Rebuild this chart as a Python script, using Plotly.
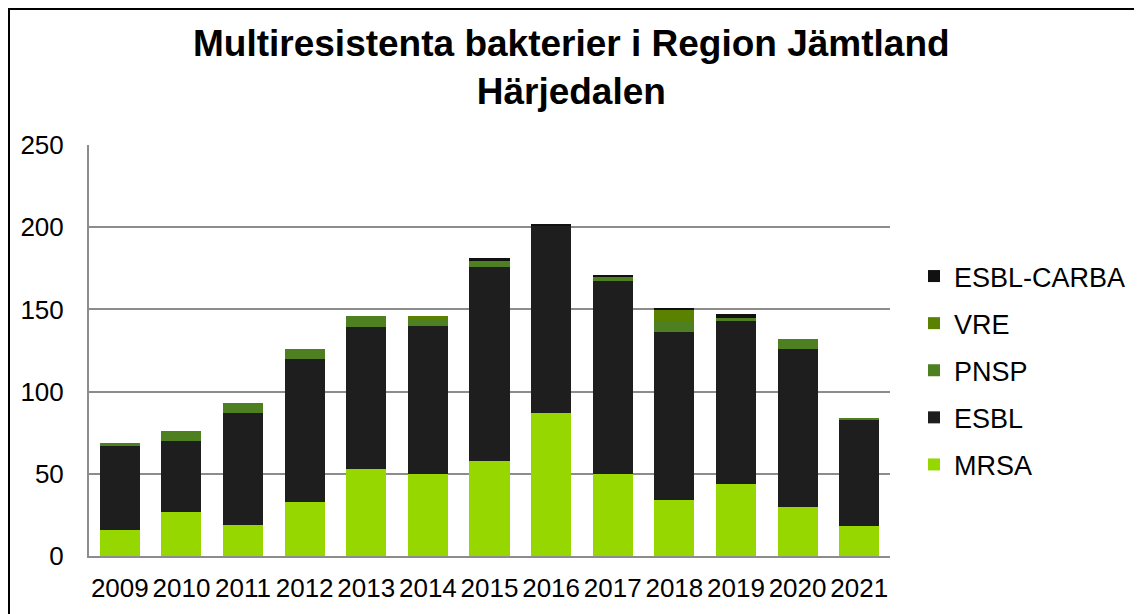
import plotly.graph_objects as go

years = ["2009", "2010", "2011", "2012", "2013", "2014", "2015",
         "2016", "2017", "2018", "2019", "2020", "2021"]
mrsa = [16, 27, 19, 33, 53, 50, 58, 87, 50, 34, 44, 30, 18]
esbl = [51, 43, 68, 87, 86, 90, 118, 114, 117, 102, 99, 96, 65]
pnsp = [2, 6, 6, 6, 7, 4, 4, 0, 3, 7, 2, 6, 1]
vre = [0, 0, 0, 0, 0, 2, 0, 0, 0, 7, 0, 0, 0]
esbl_carba = [0, 0, 0, 0, 0, 0, 1, 1, 1, 1, 2, 0, 0]

series = [
    ("MRSA", mrsa, "#97D700"),
    ("ESBL", esbl, "#1E1E1E"),
    ("PNSP", pnsp, "#4E7F20"),
    ("VRE", vre, "#5A8200"),
    ("ESBL-CARBA", esbl_carba, "#111111"),
]

FONT = "Liberation Sans, Arial, sans-serif"
W, H = 1142, 614
OFF = 8  # page body margin offset
L, R, T, B = 89 - OFF, 252 + OFF, 145 - OFF, 58 + OFF
PW, PH = W - L - R, H - T - B

fig = go.Figure()
for i, (name, vals, col) in enumerate(series):
    fig.add_trace(go.Bar(x=years, y=vals, name=name, marker_color=col,
                         marker_line_width=0, legendgroup=name,
                         legendrank=len(series) - i))

def px_x(p):
    return (p - OFF - L) / PW

def px_y(p):
    return (H - B - (p - OFF)) / PH

fig.update_layout(
    width=W, height=H,
    margin=dict(l=L, r=R, t=T, b=B, autoexpand=False),
    barmode="stack", bargap=0.35,
    paper_bgcolor="white", plot_bgcolor="white",
    font=dict(family=FONT, size=26, color="black"),
    legend=dict(
        traceorder="grouped", tracegroupgap=9,
        x=px_x(914), xanchor="left", y=px_y(252), yanchor="top",
        font=dict(family=FONT, size=27, color="black"),
        bgcolor="rgba(0,0,0,0)",
    ),
    xaxis=dict(
        showgrid=False, showline=True, linecolor="#8C8C8C", linewidth=2,
        ticks="", tickfont=dict(size=26), ticklabelstandoff=8,
    ),
    yaxis=dict(
        range=[0, 250], dtick=50, showgrid=True, gridcolor="#8C8C8C",
        gridwidth=2, showline=True, linecolor="#8C8C8C", linewidth=2,
        zeroline=False, ticks="", tickfont=dict(size=26),
        ticklabelstandoff=18,
    ),
    annotations=[dict(
        text="<b>Multiresistenta bakterier i Region Jämtland<br>Härjedalen</b>",
        font=dict(family=FONT, size=37, color="black"),
        xref="paper", yref="paper", x=px_x(571), y=px_y(68),
        xanchor="center", yanchor="middle", showarrow=False,
    )],
    shapes=[dict(
        type="rect", xref="paper", yref="paper",
        x0=px_x(OFF + 1), x1=px_x(1250), y0=px_y(700), y1=px_y(OFF + 1),
        line=dict(color="black", width=2), fillcolor="rgba(0,0,0,0)",
        layer="above",
    )],
)

fig.write_html("out.html")
